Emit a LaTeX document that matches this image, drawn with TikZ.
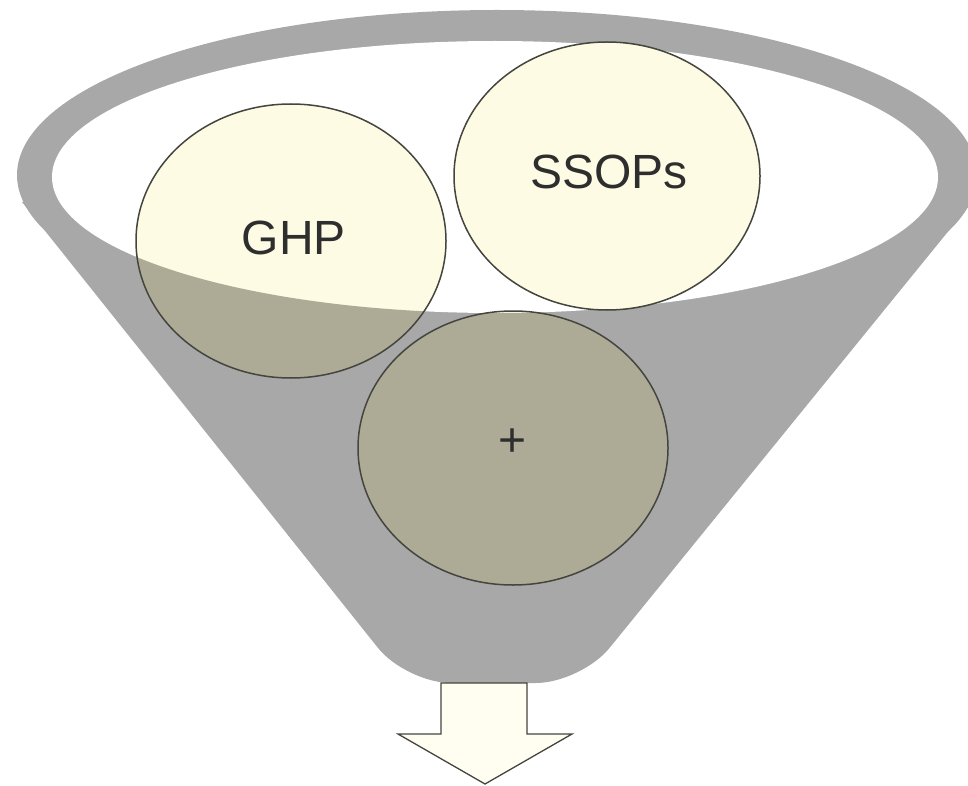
\documentclass[tikz,border=0pt]{standalone}
\usepackage{fontspec}
\setmainfont{Liberation Sans}
\usetikzlibrary{shapes.geometric}
\definecolor{funnelgrey}{HTML}{A8A8A8}
\definecolor{cream}{HTML}{FDFBE4}
\definecolor{olivefill}{HTML}{ADAA96}
\definecolor{edgecol}{HTML}{45453F}
\definecolor{arrowfill}{HTML}{FFFEF0}
\begin{document}
\begin{tikzpicture}[x=1pt,y=-1pt,
  bubble/.style={ellipse, draw=edgecol, line width=1.5pt, inner sep=0pt},
  bubblelabel/.style={font=\fontsize{48}{52}\selectfont, text=black!82, inner sep=0pt},
  olivepart/.style={olivefill, even odd rule}]
\useasboundingbox (0,0) rectangle (968,786);
% funnel
\fill[funnelgrey] (497,175) ellipse [x radius=480, y radius=165];
\fill[funnelgrey] (22,202) [rounded corners=45pt]-- (406,683) -- (581,683) [sharp corners]-- (968,207) -- cycle;
\fill[white] (495,177) ellipse [x radius=443, y radius=136];
% bubble fills
\fill[cream] (291,241) ellipse [x radius=155, y radius=137];
\fill[cream] (607,176) ellipse [x radius=153, y radius=134];
\fill[cream] (513,448) ellipse [x radius=155, y radius=137];
\begin{scope}
  \clip (291,241) ellipse [x radius=155, y radius=137];
  \fill[olivepart] (0,0) rectangle (968,786) (495,177) ellipse [x radius=443, y radius=136];
\end{scope}
\begin{scope}
  \clip (513,448) ellipse [x radius=155, y radius=137];
  \fill[olivepart] (0,0) rectangle (968,786) (495,177) ellipse [x radius=443, y radius=136];
\end{scope}
% bubble outlines and labels
\node[bubble, minimum width=310pt, minimum height=274pt] (ghp) at (291,241) {};
\node[bubble, minimum width=306pt, minimum height=268pt] (ssops) at (607,176) {};
\node[bubble, minimum width=310pt, minimum height=274pt] (plus) at (513,448) {};
\node[bubblelabel] (ghplabel) at (294,238) {GHP};
\node[bubblelabel] (ssopslabel) at (609,172) {SSOPs};
\node[bubblelabel] (pluslabel) at (513,443) {+};
% arrow
\draw[draw=edgecol, fill=arrowfill, line width=1.3pt, line join=miter]
  (441,683) -- (441,734) -- (398,734) -- (485,784) -- (572,734) -- (527,734) -- (527,683) -- cycle;
\end{tikzpicture}
\end{document}
